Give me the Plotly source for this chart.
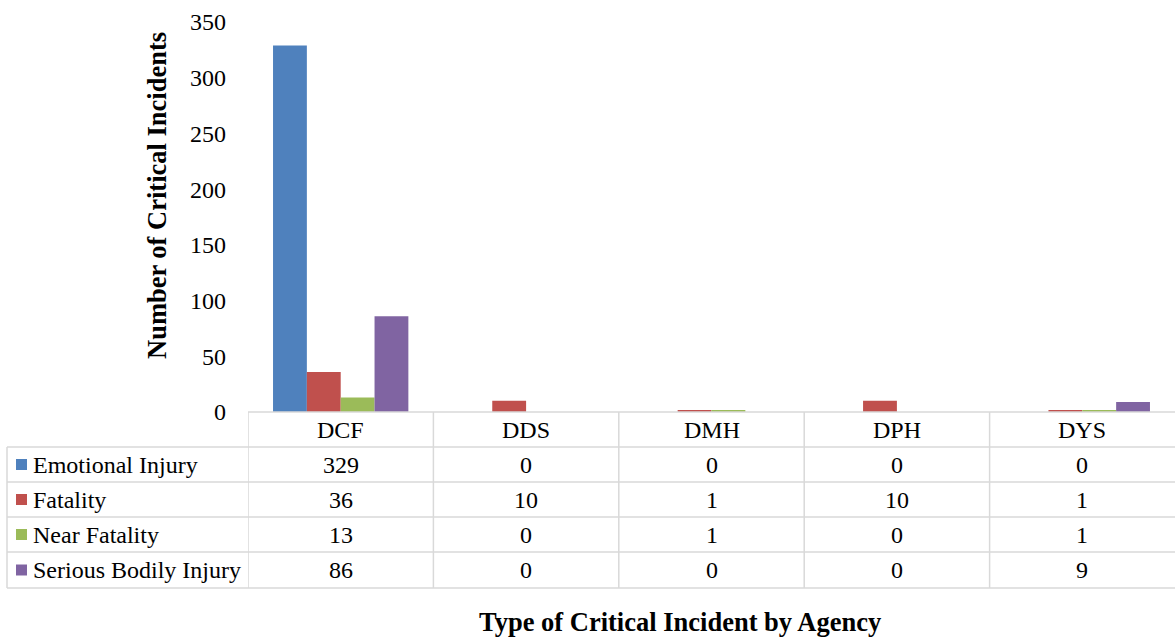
import plotly.graph_objects as go

agencies = ["DCF", "DDS", "DMH", "DPH", "DYS"]
series_names = ["Emotional Injury", "Fatality", "Near Fatality", "Serious Bodily Injury"]
emotional_injury = [329, 0, 0, 0, 0]
fatality = [36, 10, 1, 10, 1]
near_fatality = [13, 0, 1, 0, 1]
serious_bodily_injury = [86, 0, 0, 0, 9]
series_values = [emotional_injury, fatality, near_fatality, serious_bodily_injury]
colors = ["#4F81BD", "#C0504D", "#9BBB59", "#8064A2"]
y_ticks = [0, 50, 100, 150, 200, 250, 300, 350]

W, H = 1175, 638
L, R, T, B = 248, 0, 22, 226
PH = H - T - B
PW = W - L - R

def py(px):
    return (H - B - px) / PH

def pxx(px):
    return (px - L) / PW

FONT = "Liberation Serif"
GRID = "#D9D9D9"
FS = 24
TFS = 26.5

fig = go.Figure()
for name, vals, c in zip(series_names, series_values, colors):
    fig.add_trace(go.Bar(x=agencies, y=vals, name=name, marker_color=c,
                         marker_line_width=0, showlegend=False))

shapes = []
annotations = []

row_edges = [412, 447, 482, 517, 552, 588]
shapes.append(dict(type="line", xref="paper", yref="paper", x0=0, x1=1,
                   y0=py(412), y1=py(412), line=dict(color=GRID, width=1.5)))
for e in row_edges[1:]:
    shapes.append(dict(type="line", xref="paper", yref="paper", x0=pxx(7), x1=1,
                       y0=py(e), y1=py(e), line=dict(color=GRID, width=1.5)))
for i in range(len(agencies)):
    shapes.append(dict(type="line", xref="x", yref="paper", x0=i - 0.5, x1=i - 0.5,
                       y0=py(412), y1=py(588), line=dict(color=GRID, width=1.5)))
shapes.append(dict(type="line", xref="paper", yref="paper", x0=pxx(7), x1=pxx(7),
                   y0=py(447), y1=py(588), line=dict(color=GRID, width=1.5)))

for i, a in enumerate(agencies):
    annotations.append(dict(x=i, y=py((412 + 447) / 2), xref="x", yref="paper", text=a,
                            showarrow=False, font=dict(family=FONT, size=FS, color="black"),
                            xanchor="center", yanchor="middle"))

for r, (name, vals, c) in enumerate(zip(series_names, series_values, colors)):
    yc = (row_edges[r + 1] + row_edges[r + 2]) / 2
    shapes.append(dict(type="rect", xref="paper", yref="paper", x0=pxx(16), x1=pxx(27),
                       y0=py(yc - 5.5), y1=py(yc + 5.5), fillcolor=c, line=dict(width=0)))
    annotations.append(dict(x=pxx(31), y=py(yc), xref="paper", yref="paper", text=name,
                            showarrow=False, font=dict(family=FONT, size=FS, color="black"),
                            xanchor="left", yanchor="middle"))
    for i, v in enumerate(vals):
        annotations.append(dict(x=i, y=py(yc), xref="x", yref="paper", text=str(v),
                                showarrow=False, font=dict(family=FONT, size=FS, color="black"),
                                xanchor="center", yanchor="middle"))

annotations.append(dict(x=pxx(157), y=py(196), xref="paper", yref="paper",
                        text="<b>Number of Critical Incidents</b>", textangle=-90,
                        showarrow=False, font=dict(family=FONT, size=TFS, color="black"),
                        xanchor="center", yanchor="middle"))
annotations.append(dict(x=pxx(680), y=py(622), xref="paper", yref="paper",
                        text="<b>Type of Critical Incident by Agency</b>",
                        showarrow=False, font=dict(family=FONT, size=TFS, color="black"),
                        xanchor="center", yanchor="middle"))

fig.update_layout(
    width=W, height=H,
    margin=dict(l=L, r=R, t=T, b=B, autoexpand=False),
    paper_bgcolor="white", plot_bgcolor="white",
    barmode="group", bargap=0.27, bargroupgap=0,
    shapes=shapes, annotations=annotations,
    xaxis=dict(type="category", range=[-0.5, 4.5], showticklabels=False,
               showgrid=False, showline=False, zeroline=False, ticks=""),
    yaxis=dict(range=[0, 350], tickvals=y_ticks, showgrid=False, showline=False,
               zeroline=False, ticks="", ticklabelstandoff=21,
               tickfont=dict(family=FONT, size=FS, color="black")),
    font=dict(family=FONT, color="black"),
)

fig.write_html("out.html", config={"displayModeBar": False},
               post_script=["document.body.style.margin='0';document.body.style.overflow='hidden';"])
